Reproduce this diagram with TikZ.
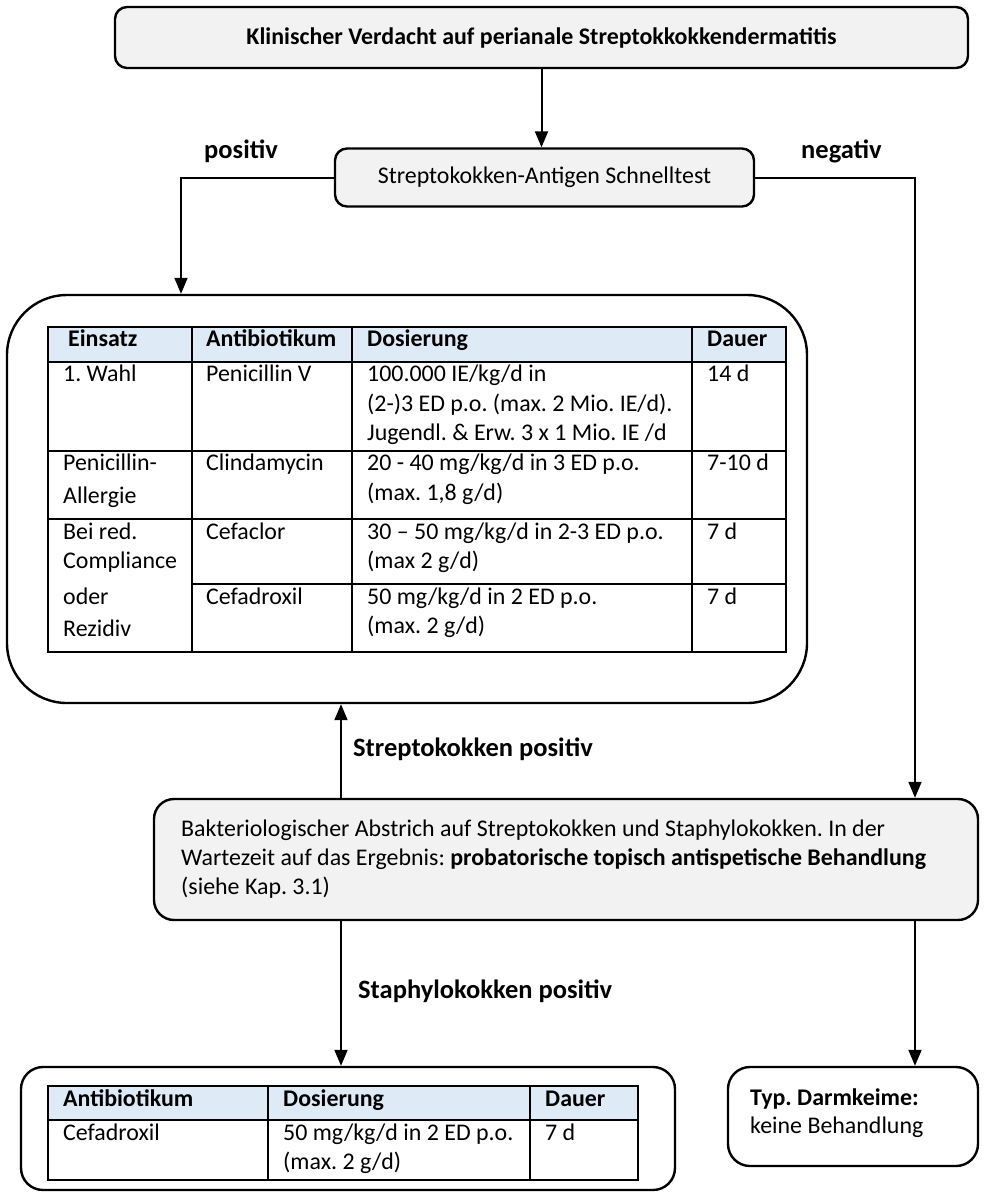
\documentclass[tikz,border=0pt]{standalone}
\usepackage{fontspec}
\setmainfont{Carlito}
\usetikzlibrary{arrows.meta}
\definecolor{boxgrey}{HTML}{F2F2F2}
\definecolor{headblue}{HTML}{DEEAF6}
\newcommand\txtsize{\fontsize{23.9}{29}\selectfont}
\newcommand\lblsize{\fontsize{26.5}{31}\selectfont}
\frenchspacing

\begin{document}
\begin{tikzpicture}[x=1pt,y=-1pt,
  box/.style={draw, line width=2.4pt, inner sep=0pt},
  greybox/.style={box, fill=boxgrey},
  conn/.style={line width=2pt, -{Triangle[width=13pt,length=16pt]}},
  tbl/.style={line width=2pt},
  txt/.style={inner sep=0pt, anchor=west, text height=0.66em, text depth=0pt, font=\txtsize},
  btxt/.style={txt, font=\txtsize\bfseries},
  lbl/.style={inner sep=0pt, anchor=west, text height=0.66em, text depth=0pt, font=\lblsize\bfseries}
]
\useasboundingbox (0,0) rectangle (984,1195);

% --- boxes ---
\node[greybox, rounded corners=12pt, minimum width=853pt, minimum height=61pt, font=\txtsize\bfseries]
  (top) at (541.5,37.5) {Klinischer Verdacht auf perianale Streptokkokkendermatitis};
\node[greybox, rounded corners=12pt, minimum width=419pt, minimum height=58pt, font=\txtsize]
  (test) at (544.5,177.5) {Streptokokken-Antigen Schnelltest};
\node[box, rounded corners=60pt, minimum width=800pt, minimum height=408pt]
  (big) at (407,499) {};
\node[greybox, rounded corners=20pt, minimum width=824pt, minimum height=121pt]
  (abs) at (566,859.5) {};
\node[box, rounded corners=22pt, minimum width=654pt, minimum height=123pt]
  (staph) at (348,1128.5) {};
\node[box, rounded corners=22pt, minimum width=250pt, minimum height=99pt]
  (typ) at (853,1116.5) {};

% --- connectors ---
\coordinate (pl) at (181,177.5);
\coordinate (nr) at (915,177.5);
\coordinate (sx) at (341,0);
\draw[conn] (top.south) -- (top.south |- test.north);
\draw[conn] (test.west) -- (pl) -- (pl |- big.north);
\draw[conn] (test.east) -- (nr) -- (nr |- abs.north);
\draw[conn] (sx |- abs.north) -- (sx |- big.south);
\draw[conn] (sx |- abs.south) -- (sx |- staph.north);
\draw[conn] (nr |- abs.south) -- (nr |- typ.north);

% --- connector labels ---
\node[lbl] (lpos) at (204,155) {positiv};
\node[lbl] (lneg) at (801,155) {negativ};
\node[lbl] (lstrep) at (353,753) {Streptokokken positiv};
\node[lbl] (lstaph) at (358,995) {Staphylokokken positiv};

% --- therapy table (streptococci) ---
\fill[headblue] (48,327) rectangle (786,362);
\draw[tbl] (48,327) rectangle (786,652);
\draw[tbl] (48,362) -- (786,362);
\draw[tbl] (48,451) -- (786,451);
\draw[tbl] (48,519) -- (786,519);
\draw[tbl] (192,584) -- (786,584);
\draw[tbl] (192,327) -- (192,652);
\draw[tbl] (352,327) -- (352,652);
\draw[tbl] (692,327) -- (692,652);

\node[btxt] (h1) at (68,343) {Einsatz};
\node[btxt] (h2) at (206,343) {Antibiotikum};
\node[btxt] (h3) at (367,343) {Dosierung};
\node[btxt] (h4) at (707,343) {Dauer};

\node[txt] (a1) at (63,378) {1. Wahl};
\node[txt] (a2) at (206,378) {Penicillin V};
\node[txt] (a3a) at (367,378) {100.000 IE/kg/d in};
\node[txt] (a3b) at (367,408) {(2-)3 ED p.o. (max. 2 Mio. IE/d).};
\node[txt] (a3c) at (367,437) {Jugendl. \& Erw. 3 x 1 Mio. IE /d};
\node[txt] (a4) at (707,378) {14 d};

\node[txt] (b1a) at (63,467) {Penicillin-};
\node[txt] (b1b) at (63,500) {Allergie};
\node[txt] (b2) at (206,467) {Clindamycin};
\node[txt] (b3a) at (367,467) {20 - 40 mg/kg/d in 3 ED p.o.};
\node[txt] (b3b) at (367,497) {(max. 1,8 g/d)};
\node[txt] (b4) at (707,467) {7-10 d};

\node[txt] (c1a) at (63,536) {Bei red.};
\node[txt] (c1b) at (63,565) {Compliance};
\node[txt] (c1c) at (63,601) {oder};
\node[txt] (c1d) at (63,633) {Rezidiv};
\node[txt] (c2) at (206,536) {Cefaclor};
\node[txt] (c3a) at (367,536) {30 – 50 mg/kg/d in 2-3 ED p.o.};
\node[txt] (c3b) at (367,565) {(max 2 g/d)};
\node[txt] (c4) at (707,536) {7 d};

\node[txt] (d2) at (206,601) {Cefadroxil};
\node[txt] (d3a) at (367,601) {50 mg/kg/d in 2 ED p.o.};
\node[txt] (d3b) at (367,630) {(max. 2 g/d)};
\node[txt] (d4) at (707,601) {7 d};

% --- swab box text ---
\node[txt] (s1) at (181,833) {Bakteriologischer Abstrich auf Streptokokken und Staphylokokken. In der};
\node[txt] (s2) at (181,862) {Wartezeit auf das Ergebnis: \textbf{probatorische topisch antispetische Behandlung}};
\node[txt] (s3) at (181,891) {(siehe Kap. 3.1)};

% --- therapy table (staphylococci) ---
\fill[headblue] (48,1086) rectangle (638,1120);
\draw[tbl] (48,1086) rectangle (638,1180);
\draw[tbl] (48,1120) -- (638,1120);
\draw[tbl] (268,1086) -- (268,1180);
\draw[tbl] (530,1086) -- (530,1180);

\node[btxt] (g1) at (63,1103) {Antibiotikum};
\node[btxt] (g2) at (283,1103) {Dosierung};
\node[btxt] (g3) at (545,1103) {Dauer};
\node[txt] (e1) at (63,1137) {Cefadroxil};
\node[txt] (e2a) at (283,1137) {50 mg/kg/d in 2 ED p.o.};
\node[txt] (e2b) at (283,1166) {(max. 2 g/d)};
\node[txt] (e3) at (545,1137) {7 d};

% --- intestinal flora box text ---
\node[btxt] (k1) at (750,1102) {Typ. Darmkeime:};
\node[txt] (k2) at (750,1130) {keine Behandlung};
\end{tikzpicture}
\end{document}
